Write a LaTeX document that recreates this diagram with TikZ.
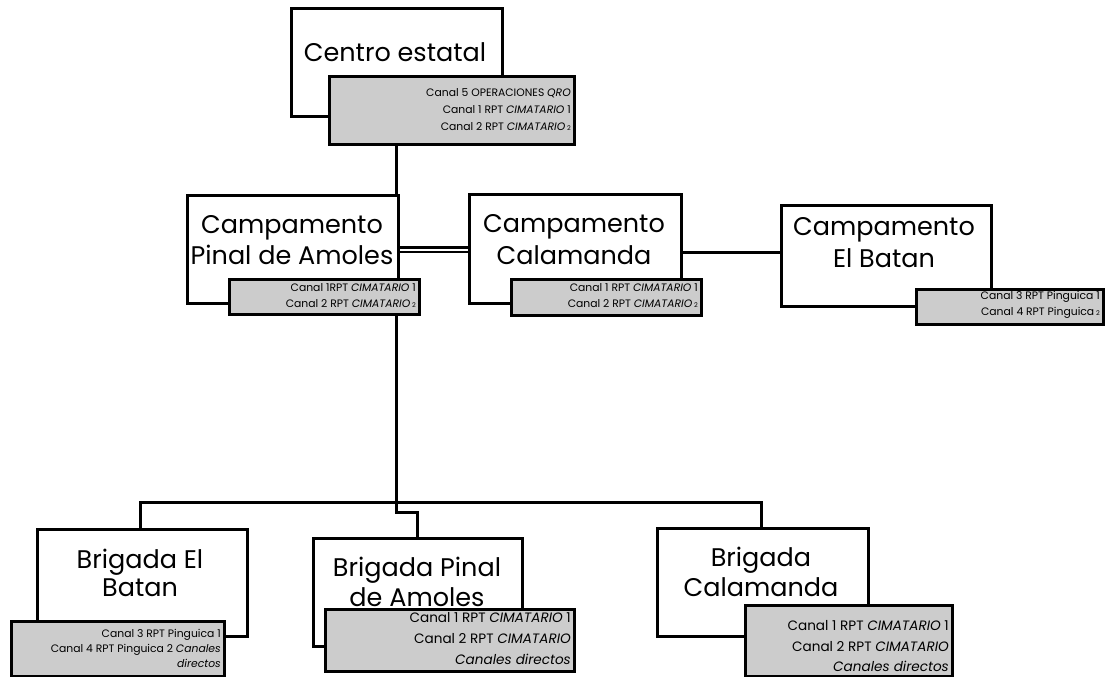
\documentclass[tikz,border=0pt]{standalone}
\usepackage{fontspec}
\setmainfont{Poppins}
\definecolor{boxgray}{RGB}{204,204,204}
\begin{document}
\begin{tikzpicture}[x=1pt,y=-1pt,
  whitebox/.style={draw=black, fill=white, line width=3pt, rectangle, inner sep=0pt},
  graybox/.style={draw=black, fill=boxgray, line width=3pt, rectangle, inner sep=0pt},
  conn/.style={draw=black, line width=3pt},
  big/.style={inner sep=0pt, font=\fontsize{25.5}{30}\selectfont, anchor=center},
  small/.style={inner sep=0pt, font=\fontsize{10.8}{13}\selectfont, anchor=east},
  smallb/.style={inner sep=0pt, font=\fontsize{13.6}{16}\selectfont, anchor=east}
]
\useasboundingbox (0,0) rectangle (1106,677);
\newcommand{\sub}[1]{\,{\fontsize{6.5}{7}\selectfont #1}}

% ---------- Centro estatal
\node[whitebox, anchor=north west, minimum width=211pt, minimum height=108pt] (centro) at (290,7) {};
\node[graybox, anchor=north west, minimum width=245pt, minimum height=68pt] (centrog) at (328,75) {};
\node[big] (centrot) at (395,52) {Centro estatal};
\node[small] (c1) at (571,93) {Canal 5 OPERACIONES \textit{QRO}};
\node[small] (c2) at (571,110) {Canal 1 RPT \textit{CIMATARIO} 1};
\node[small] (c3) at (571,127) {Canal 2 RPT \textit{CIMATARIO}\sub{2}};

% ---------- Campamentos
\node[whitebox, anchor=north west, minimum width=211pt, minimum height=108pt] (pinal) at (186,194) {};
\node[whitebox, anchor=north west, minimum width=212pt, minimum height=109pt] (cala) at (468,193) {};
\node[whitebox, anchor=north west, minimum width=210pt, minimum height=101pt] (batan) at (780,204) {};

% connectors between camps
\draw[conn, line width=2.2pt] (pinal.east |- 0,247.5) -- (cala.west |- 0,247.5);
\draw[conn, line width=2.2pt] (pinal.east |- 0,252) -- (cala.west |- 0,252);
\draw[conn, line width=2.6pt] (cala.east |- 0,252.5) -- (batan.west |- 0,252.5);
% Centro -> Pinal
\draw[conn] (centrog.south -| 396,0) -- (pinal.north east -| 396,0);

\node[graybox, anchor=north west, minimum width=190pt, minimum height=35pt] (pinalg) at (228,278) {};
\node[big] (pinalt1) at (292,228) {Campamento};
\node[big] (pinalt2) at (292,255) {Pinal de Amoles};
\node[small] (p1) at (416,288) {Canal 1RPT \textit{CIMATARIO} 1};
\node[small] (p2) at (416,304) {Canal 2 RPT \textit{CIMATARIO}\sub{2}};

\node[graybox, anchor=north west, minimum width=190pt, minimum height=36pt] (calag) at (510,278) {};
\node[big] (calat1) at (574,227) {Campamento};
\node[big] (calat2) at (574,255) {Calamanda};
\node[small] (k1) at (698,288) {Canal 1 RPT \textit{CIMATARIO} 1};
\node[small] (k2) at (698,304) {Canal 2 RPT \textit{CIMATARIO}\sub{2}};

\node[graybox, anchor=north west, minimum width=187pt, minimum height=35pt] (batang) at (915,288) {};
\node[big] (batant1) at (884,230) {Campamento};
\node[big] (batant2) at (884,258) {El Batan};
\node[small] (b1) at (1100,297) {Canal 3 RPT Pinguica 1};
\node[small] (b2) at (1100,313) {Canal 4 RPT Pinguica\sub{2}};

% ---------- Brigadas
\node[whitebox, anchor=north west, minimum width=210pt, minimum height=107pt] (bbatan) at (36,528) {};
\node[whitebox, anchor=north west, minimum width=209pt, minimum height=108pt] (bpinal) at (312,537) {};
\node[whitebox, anchor=north west, minimum width=211pt, minimum height=108pt] (bcala) at (656,527) {};

% tree connectors
\coordinate (j) at (396,502);
\coordinate (jl) at (140,502);
\coordinate (jr) at (761,502);
\coordinate (jp) at (396,512);
\coordinate (jp2) at (417,512);
\draw[conn] (pinalg.south -| j) -- (j);
\draw[conn] (bbatan.north -| jl) -- (jl) -- (jr) -- (bcala.north -| jr);
\draw[conn] (j) -- (jp) -- (jp2) -- (bpinal.north -| jp2);

\node[graybox, anchor=north west, minimum width=213pt, minimum height=55pt] (bbatang) at (10,620) {};
\node[big] (bbatant1) at (140,562) {Brigada El};
\node[big] (bbatant2) at (140,588) {Batan};
\node[small] (bb1) at (221,635) {Canal 3 RPT Pinguica 1};
\node[small] (bb2) at (221,650) {Canal 4 RPT Pinguica 2 \textit{Canales}};
\node[small] (bb3) at (221,663) {\textit{directos}};

\node[graybox, anchor=north west, minimum width=249pt, minimum height=62pt] (bpinalg) at (324,608) {};
\node[big] (bpinalt1) at (417,570) {Brigada Pinal};
\node[big] (bpinalt2) at (417,597) {de Amoles};
\node[smallb] (bp1) at (571,618) {Canal 1 RPT \textit{CIMATARIO} 1};
\node[smallb] (bp2) at (571,639) {Canal 2 RPT \textit{CIMATARIO}};
\node[smallb] (bp3) at (571,659) {\textit{Canales directos}};

\node[graybox, anchor=north west, minimum width=207pt, minimum height=71pt] (bcalag) at (744,604) {};
\node[big] (bcalat1) at (761,560) {Brigada};
\node[big] (bcalat2) at (761,587) {Calamanda};
\node[smallb] (bc1) at (949,626) {Canal 1 RPT \textit{CIMATARIO} 1};
\node[smallb] (bc2) at (949,647) {Canal 2 RPT \textit{CIMATARIO}};
\node[smallb] (bc3) at (949,666) {\textit{Canales directos}};
\end{tikzpicture}
\end{document}
